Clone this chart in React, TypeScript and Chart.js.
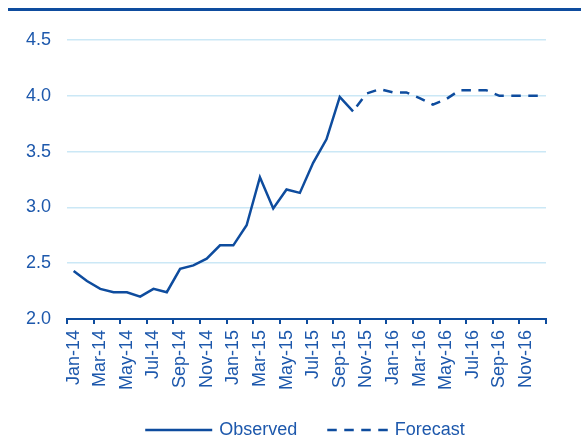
import React, { useEffect, useRef } from "react";
import { Chart, registerables } from "chart.js";

Chart.register(...registerables);

// Monthly categories, Jan-14 .. Dec-16
const months = [
  "Jan-14", "Feb-14", "Mar-14", "Apr-14", "May-14", "Jun-14",
  "Jul-14", "Aug-14", "Sep-14", "Oct-14", "Nov-14", "Dec-14",
  "Jan-15", "Feb-15", "Mar-15", "Apr-15", "May-15", "Jun-15",
  "Jul-15", "Aug-15", "Sep-15", "Oct-15", "Nov-15", "Dec-15",
  "Jan-16", "Feb-16", "Mar-16", "Apr-16", "May-16", "Jun-16",
  "Jul-16", "Aug-16", "Sep-16", "Oct-16", "Nov-16", "Dec-16",
];

// Observed values, Jan-14 .. Oct-15
const observed = [
  2.43, 2.34, 2.27, 2.24, 2.24, 2.2, 2.27, 2.24, 2.45, 2.48, 2.54, 2.66,
  2.66, 2.84, 3.27, 2.99, 3.16, 3.13, 3.4, 3.61, 3.99, 3.86,
];

// Forecast values, Oct-15 .. Dec-16
const forecast = [
  3.86, 4.02, 4.06, 4.03, 4.03, 3.98, 3.92, 3.97, 4.05, 4.05, 4.05, 4.0,
  4.0, 4.0, 4.0,
];

const forecastStart = months.indexOf("Oct-15");

const yMin = 2.0;
const yMax = 4.5;
const yStep = 0.5;

const LINE_BLUE = "#0E4C9E";
const TEXT_BLUE = "#1D58AC";
const GRID_BLUE = "#CBE8F6";
const FONT = "'Liberation Sans', Arial, Helvetica, sans-serif";
const FONT_SIZE = 18;
const DASH = [9.5, 7.5];

const observedSeries = months.map((_, i) => (i < observed.length ? observed[i] : null));
const forecastSeries = months.map((_, i) =>
  i >= forecastStart && i - forecastStart < forecast.length ? forecast[i - forecastStart] : null
);

// Legend with long line samples, centred under the plot area
const lineLegend = {
  id: "lineLegend",
  afterDraw(chart: any) {
    const { ctx, chartArea } = chart;
    const gap = 7;
    const spacing = 30;
    const y = 430;
    ctx.save();
    ctx.font = `${FONT_SIZE}px ${FONT}`;
    const items = chart.data.datasets.map((ds: any) => {
      const dash = (ds.borderDash || []) as number[];
      return {
        text: ds.label as string,
        color: ds.borderColor as string,
        dash,
        width: ds.borderWidth as number,
        sample: dash.length ? 4 * dash[0] + 3 * dash[1] : 67,
      };
    });
    const widths = items.map((it: any) => it.sample + gap + ctx.measureText(it.text).width);
    const total = widths.reduce((a: number, b: number) => a + b, 0) + spacing * (items.length - 1);
    let x = (chartArea.left + chartArea.right) / 2 - 1.5 - total / 2;
    items.forEach((it: any, i: number) => {
      ctx.beginPath();
      ctx.setLineDash(it.dash);
      ctx.lineDashOffset = 0;
      ctx.strokeStyle = it.color;
      ctx.lineWidth = it.width;
      ctx.moveTo(x, y);
      ctx.lineTo(x + it.sample, y);
      ctx.stroke();
      ctx.setLineDash([]);
      ctx.fillStyle = TEXT_BLUE;
      ctx.textAlign = "left";
      ctx.textBaseline = "middle";
      ctx.fillText(it.text, x + it.sample + gap, y);
      x += widths[i] + spacing;
    });
    ctx.restore();
  },
};

export default function App() {
  const canvasRef = useRef<HTMLCanvasElement | null>(null);

  useEffect(() => {
    if (!canvasRef.current) return;
    const chart = new Chart(canvasRef.current, {
      type: "line",
      data: {
        labels: months,
        datasets: [
          {
            label: "Observed",
            data: observedSeries,
            borderColor: LINE_BLUE,
            borderWidth: 2.5,
            pointRadius: 0,
            tension: 0,
            fill: false,
          },
          {
            label: "Forecast",
            data: forecastSeries,
            borderColor: LINE_BLUE,
            borderWidth: 2.5,
            borderDash: DASH,
            borderDashOffset: 11,
            pointRadius: 0,
            tension: 0,
            fill: false,
          },
        ],
      },
      options: {
        animation: false,
        responsive: false,
        maintainAspectRatio: false,
        layout: { padding: { left: 8, right: 35, top: 40, bottom: 50 } },
        plugins: {
          legend: { display: false },
          tooltip: { enabled: false },
        },
        scales: {
          x: {
            type: "category",
            offset: true,
            grid: {
              offset: true,
              drawOnChartArea: false,
              drawTicks: true,
              tickLength: 5,
              lineWidth: 2,
              color: (ctx: any) =>
                ctx.index === undefined || ctx.index % 2 === 0 ? LINE_BLUE : "rgba(0,0,0,0)",
            },
            border: { display: true, color: LINE_BLUE, width: 2 },
            ticks: {
              autoSkip: false,
              minRotation: 90,
              maxRotation: 90,
              padding: 6,
              color: TEXT_BLUE,
              font: { family: FONT, size: FONT_SIZE },
              callback: (_v: any, i: number) => (i % 2 === 0 ? months[i] : ""),
            },
            afterFit: (s: any) => {
              s.height = 70;
            },
          },
          y: {
            min: yMin,
            max: yMax,
            ticks: {
              stepSize: yStep,
              padding: 16,
              color: TEXT_BLUE,
              font: { family: FONT, size: FONT_SIZE },
              callback: (v: any) => Number(v).toFixed(1),
            },
            grid: { color: GRID_BLUE, lineWidth: 1.5, drawTicks: false },
            border: { display: false },
            afterFit: (s: any) => {
              s.width = 59;
            },
          },
        },
      },
      plugins: [lineLegend],
    });
    return () => chart.destroy();
  }, []);

  return (
    <div
      style={{
        position: "fixed",
        left: 0,
        top: 0,
        width: 581,
        height: 439,
        overflow: "hidden",
        background: "#ffffff",
      }}
    >
      <canvas
        ref={canvasRef}
        width={581}
        height={439}
        style={{ position: "absolute", left: 0, top: 0, width: 581, height: 439 }}
      />
      <div
        style={{
          position: "absolute",
          left: 8,
          top: 8,
          width: 573,
          height: 3,
          background: LINE_BLUE,
        }}
      />
    </div>
  );
}
